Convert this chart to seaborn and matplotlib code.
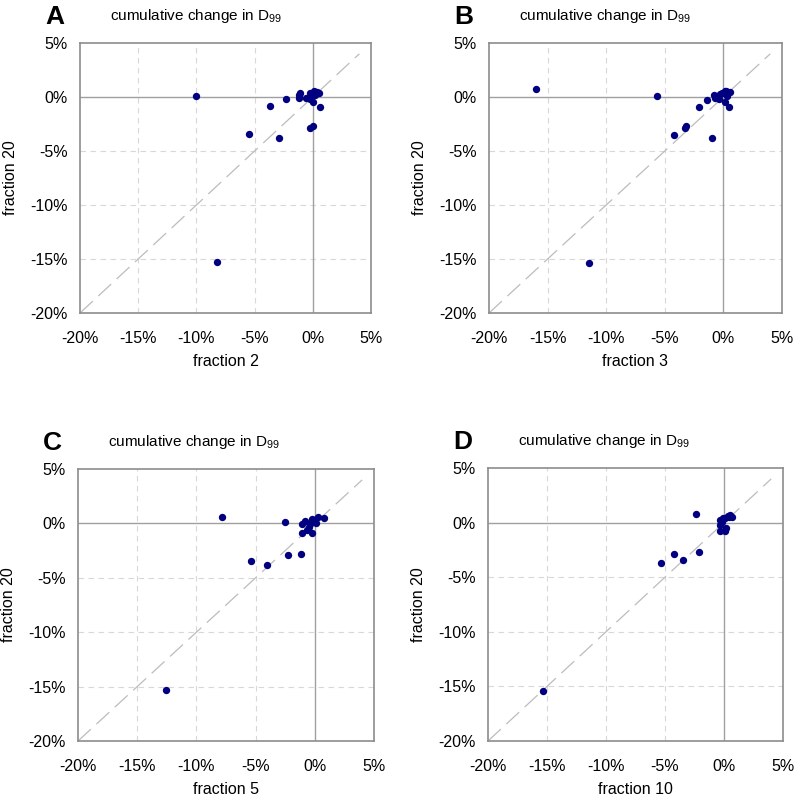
import seaborn as sns
import matplotlib.pyplot as plt
import matplotlib.ticker as ticker
import numpy as np
import pandas as pd

# panel A: fraction 2 vs fraction 20 (cumulative change in %)
a_x = [-10.0, -8.2, -5.5, -3.7, -2.9, -2.3, -1.2, -1.1, -1.2, -0.6, -0.2, 0.0,
       -0.2, 0.1, 0.4, 0.2, 0.6, -0.2, 0.0, 0.5]
a_y = [0.1, -15.3, -3.4, -0.8, -3.8, -0.2, 0.2, 0.4, -0.1, -0.1, -0.2, -0.5,
       0.4, 0.6, 0.5, 0.2, -0.9, -2.9, -2.7, 0.4]

# panel B: fraction 3 vs fraction 20
b_x = [-16.0, -11.5, -5.7, -4.2, -3.3, -3.2, -2.1, -1.4, -1.0, -0.8, -0.7,
       -0.4, -0.3, -0.1, 0.1, 0.3, 0.4, 0.6, 0.1, 0.5, 0.2]
b_y = [0.7, -15.4, 0.1, -3.5, -2.9, -2.7, -0.9, -0.3, -3.8, 0.2, -0.1,
       -0.2, 0.3, 0.4, 0.6, 0.1, 0.5, 0.5, -0.5, -0.9, 0.6]

# panel C: fraction 5 vs fraction 20
c_x = [-7.8, -12.6, -5.4, -4.0, -2.3, -2.5, -1.2, -1.1, -1.1, -0.8, -0.7,
       -0.5, -0.4, -0.2, -0.2, -0.1, 0.1, 0.3, 0.8, -0.1]
c_y = [0.6, -15.3, -3.5, -3.8, -2.9, 0.1, -2.8, -0.1, -0.9, 0.2, -0.6,
       -0.3, -0.1, -0.9, 0.4, 0.2, 0.0, 0.6, 0.5, 0.3]

# panel D: fraction 10 vs fraction 20
d_x = [-15.3, -5.3, -4.2, -3.5, -2.1, -2.4, -0.3, 0.1, 0.2, -0.3, -0.3,
       -0.1, 0.1, 0.3, 0.5, 0.7, -0.2, 0.4]
d_y = [-15.4, -3.7, -2.9, -3.4, -2.7, 0.8, -0.8, -0.8, -0.5, -0.2, 0.2,
       0.4, 0.4, 0.6, 0.7, 0.5, 0.1, 0.5]

panel_letters = ["A", "B", "C", "D"]
x_labels = ["fraction 2", "fraction 3", "fraction 5", "fraction 10"]
y_label = "fraction 20"
tick_values = [-20, -15, -10, -5, 0, 5]

sns.set_style("white")
plt.rcParams["font.family"] = ["Liberation Sans", "DejaVu Sans"]
plt.rcParams["mathtext.fontset"] = "custom"
plt.rcParams["mathtext.rm"] = "Liberation Sans"
for key in ["text.color", "axes.labelcolor", "xtick.color", "ytick.color"]:
    plt.rcParams[key] = "black"

fig = plt.figure(figsize=(8.0, 8.06), dpi=100)
W, H = 800, 806

# axes boxes in pixels: left, top, right, bottom
boxes = [(80, 43, 371, 313), (489, 43, 782, 313),
         (78, 469, 374, 741), (488, 468, 783, 741)]
datasets = [(a_x, a_y), (b_x, b_y), (c_x, c_y), (d_x, d_y)]


def draw_panel(ax, xs, ys, xlabel, width_px):
    df = pd.DataFrame({"x": xs, "y": ys})
    ax.set_xlim(-20, 5)
    ax.set_ylim(-20, 5)
    for v in [-15, -10, -5]:
        ax.axhline(v, color="#d8d8d8", lw=0.8, ls=(0, (5, 4)), zorder=0)
        ax.axvline(v, color="#d8d8d8", lw=0.8, ls=(0, (5, 4)), zorder=0)
    ax.axhline(0, color="#a0a0a0", lw=1.0, zorder=1)
    ax.axvline(0, color="#a0a0a0", lw=1.0, zorder=1)
    ax.plot([-20, 4], [-20, 4], color="#bcbcbc", lw=0.9,
            ls=(0, (14, 6)), zorder=1)
    sns.scatterplot(data=df, x="x", y="y", ax=ax, color="#000080",
                    s=28, edgecolor="#000080", linewidth=0, zorder=3)
    ax.set_xticks(tick_values)
    ax.set_yticks(tick_values)
    ax.xaxis.set_major_formatter(ticker.FuncFormatter(lambda v, p: f"{v:.0f}%"))
    ax.yaxis.set_major_formatter(ticker.FuncFormatter(lambda v, p: f"{v:.0f}%"))
    ax.tick_params(axis="x", length=0, labelsize=11.5, pad=13)
    ax.tick_params(axis="y", length=0, labelsize=11.5, pad=9)
    ax.set_xlabel(xlabel, fontsize=11.5, labelpad=6)
    ax.set_ylabel(y_label, fontsize=11.5)
    ax.yaxis.set_label_coords(-62 / width_px, 0.5)
    for side in ["left", "bottom", "top", "right"]:
        ax.spines[side].set_visible(True)
        ax.spines[side].set_color("#8c8c8c")
        ax.spines[side].set_linewidth(1.2)


for i, (box, (xs, ys)) in enumerate(zip(boxes, datasets)):
    l, t, r, b = box
    ax = fig.add_axes([l / W, 1 - b / H, (r - l) / W, (b - t) / H])
    draw_panel(ax, xs, ys, x_labels[i], r - l)
    # panel letter and title
    fig.text((l - 35) / W, 1 - (t - 26) / H, panel_letters[i],
             fontsize=19, fontweight="bold", va="center", ha="left")
    fig.text((l + 30) / W, 1 - (t - 27) / H, "cumulative change in D$_{99}$",
             fontsize=11, va="center", ha="left")

fig.savefig("out.png", dpi=100)
